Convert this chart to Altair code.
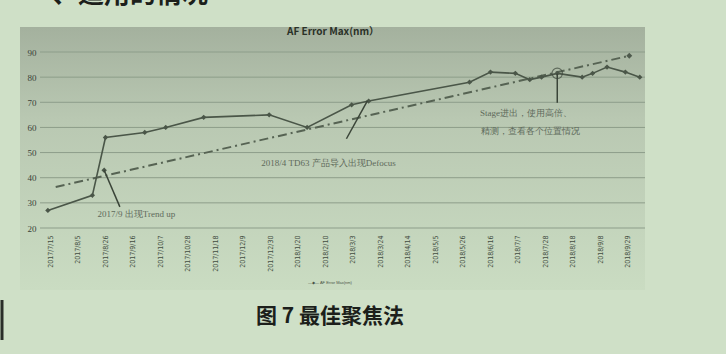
import altair as alt
import pandas as pd

# AF Error Max (nm) readings by date
dates = [
    "2017-07-13", "2017-08-16", "2017-08-26", "2017-09-25", "2017-10-11",
    "2017-11-09", "2017-12-29", "2018-01-27", "2018-03-02", "2018-03-15",
    "2018-05-31", "2018-06-16", "2018-07-05", "2018-07-16", "2018-07-25",
    "2018-08-06", "2018-08-25", "2018-09-02", "2018-09-13", "2018-09-27",
    "2018-10-08",
]
values = [27, 33, 56, 58, 60, 64, 65, 60, 69, 70.5,
          78, 82, 81.5, 79, 80, 81.5, 80, 81.5, 84, 82, 80]

# single flagged reading (trend-up event)
flag_date = ["2017-08-25"]
flag_value = [43]

# linear trend line end points
trend_dates = ["2017-07-19", "2018-09-30"]
trend_values = [36.3, 88.5]

# axis ticks
y_ticks = [20, 30, 40, 50, 60, 70, 80, 90]
x_tick_dates = [d.strftime("%Y-%m-%d") for d in pd.date_range("2017-07-15", periods=22, freq="21D")]

# annotations: text, anchor date/value, leader line start/end
notes = [
    {"text": "2017/9 出现Trend up", "date": "2017-08-20", "value": 25.6},
    {"text": "2018/4  TD63 产品导入出现Defocus", "date": "2017-12-23", "value": 45.9},
    {"text": "Stage进出，使用高倍、", "date": "2018-06-08", "value": 65.8},
    {"text": "精测，查看各个位置情况", "date": "2018-06-09", "value": 58.6},
]
leaders = [
    {"date": "2017-08-25", "value": 43, "d2": "2017-09-06", "v2": 28.4},
    {"date": "2018-03-14", "value": 70.6, "d2": "2018-02-26", "v2": 55.5},
    {"date": "2018-08-06", "value": 81.4, "d2": "2018-08-06", "v2": 69.8},
]
circled = [{"date": "2018-08-06", "value": 81.5}]


def ms(s):
    return int(pd.Timestamp(s).value // 10**6)


W, H = 605, 176
PAGE = "#cfe0c7"
INK = "#4a5648"

df = pd.DataFrame({"date": dates, "value": values})
x_scale = alt.Scale(type="utc", domain=[ms("2017-07-07"), ms("2018-10-12")])
y_scale = alt.Scale(domain=[20, 90])

x_axis = alt.Axis(values=[ms(d) for d in x_tick_dates],
                  labelExpr="utcFormat(datum.value, '%Y/%-m/%-d')",
                  labelAngle=270, labelAlign="right", labelBaseline="middle",
                  labelFontSize=7, labelColor="#434c41", labelPadding=7, zindex=2,
                  domain=False, ticks=False, grid=False, labelFont="DejaVu Sans Condensed")
y_axis = alt.Axis(values=y_ticks, domain=False, ticks=False, grid=False, zindex=2,
                  labelFontSize=9, labelColor="#3a4238", labelPadding=4,
                  labelFont="Liberation Serif")


def X(field="date"):
    return alt.X(f"{field}:T", scale=x_scale, axis=x_axis, title=None)


def Y(field="value"):
    return alt.Y(f"{field}:Q", scale=y_scale, axis=y_axis, title=None)


one = pd.DataFrame({"k": [0]})

panel = alt.Chart(one).mark_rect(
    color=alt.Gradient(
        gradient="linear",
        stops=[alt.GradientStop(color="#a4b19e", offset=0),
               alt.GradientStop(color="#b9c8b2", offset=0.35),
               alt.GradientStop(color="#cadcc2", offset=1)],
        x1=0, x2=0, y1=0, y2=1,
    )
).encode(x=alt.value(-20), x2=alt.value(W), y=alt.value(-25), y2=alt.value(H + 62))

grid = alt.Chart(pd.DataFrame({"value": y_ticks})).mark_rule(color="#8d9d8a", strokeWidth=1).encode(
    y=Y()
)

trend = alt.Chart(pd.DataFrame({"date": trend_dates, "value": trend_values})).mark_line(
    color="#566353", strokeWidth=2, strokeDash=[9, 4, 2, 4]
).encode(x=X(), y=Y())

trend_end = alt.Chart(pd.DataFrame({"date": trend_dates[1:], "value": trend_values[1:]})).mark_point(
    shape="diamond", filled=True, color="#4e5a4c", size=35, opacity=1
).encode(x=X(), y=Y())

line = alt.Chart(df).mark_line(color=INK, strokeWidth=1.6).encode(x=X(), y=Y())

pts = alt.Chart(df).mark_point(shape="diamond", filled=True, color=INK, size=28, opacity=1).encode(
    x=X(), y=Y()
)

flag = alt.Chart(pd.DataFrame({"date": flag_date, "value": flag_value})).mark_point(
    shape="diamond", filled=True, color=INK, size=30, opacity=1
).encode(x=X(), y=Y())

ring = alt.Chart(pd.DataFrame(circled)).mark_point(
    shape="circle", filled=False, color="#3e483c", size=110, strokeWidth=1.2
).encode(x=X(), y=Y())

lead = alt.Chart(pd.DataFrame(leaders)).mark_rule(color="#3a4438", strokeWidth=1.5).encode(
    x=X(), y=Y(), x2="d2:T", y2="v2:Q",
)

note_text = alt.Chart(pd.DataFrame(notes)).mark_text(
    align="left", baseline="middle", fontSize=9, color="#5e6a5b", font="Liberation Serif"
).encode(x=X(), y=Y(), text="text:N")

title = alt.Chart(one).mark_text(
    text="AF Error Max(nm）", fontSize=10, fontWeight="bold", color="#2a3128",
    font="Noto Sans CJK SC", align="center", baseline="middle"
).encode(x=alt.value(293), y=alt.value(-20))

legend = alt.Chart(one).mark_text(
    text="—◆— AF Error Max(nm)", fontSize=4, color="#4a5448", align="center", baseline="middle"
).encode(x=alt.value(290), y=alt.value(231))

caption = alt.Chart(one).mark_text(
    text="图 7  最佳聚焦法", fontSize=21, fontWeight="bold", color="#1c1f1b",
    font="Noto Sans CJK SC", align="center", baseline="middle"
).encode(x=alt.value(290), y=alt.value(265))

heading = alt.Chart(one).mark_text(
    text="一、适用的情况", fontSize=26, fontWeight="bold", color="#1c1f1b",
    font="Noto Sans CJK SC", align="left", baseline="bottom"
).encode(x=alt.value(-14), y=alt.value(-44))

edge = alt.Chart(one).mark_rule(color="#2a2e29", strokeWidth=3).encode(
    x=alt.value(-38), y=alt.value(248), y2=alt.value(288)
)

chart = alt.layer(
    panel, grid, trend, line, pts, flag, trend_end, ring, lead, note_text,
    title, legend, caption, heading, edge,
).properties(
    width=W, height=H,
    padding={"left": 40, "top": 52, "right": 81, "bottom": 126},
    autosize=alt.AutoSizeParams(type="none"),
    background=PAGE,
).configure_view(stroke=None)

chart.save("out.html", embed_options={"renderer": "svg", "actions": False})
